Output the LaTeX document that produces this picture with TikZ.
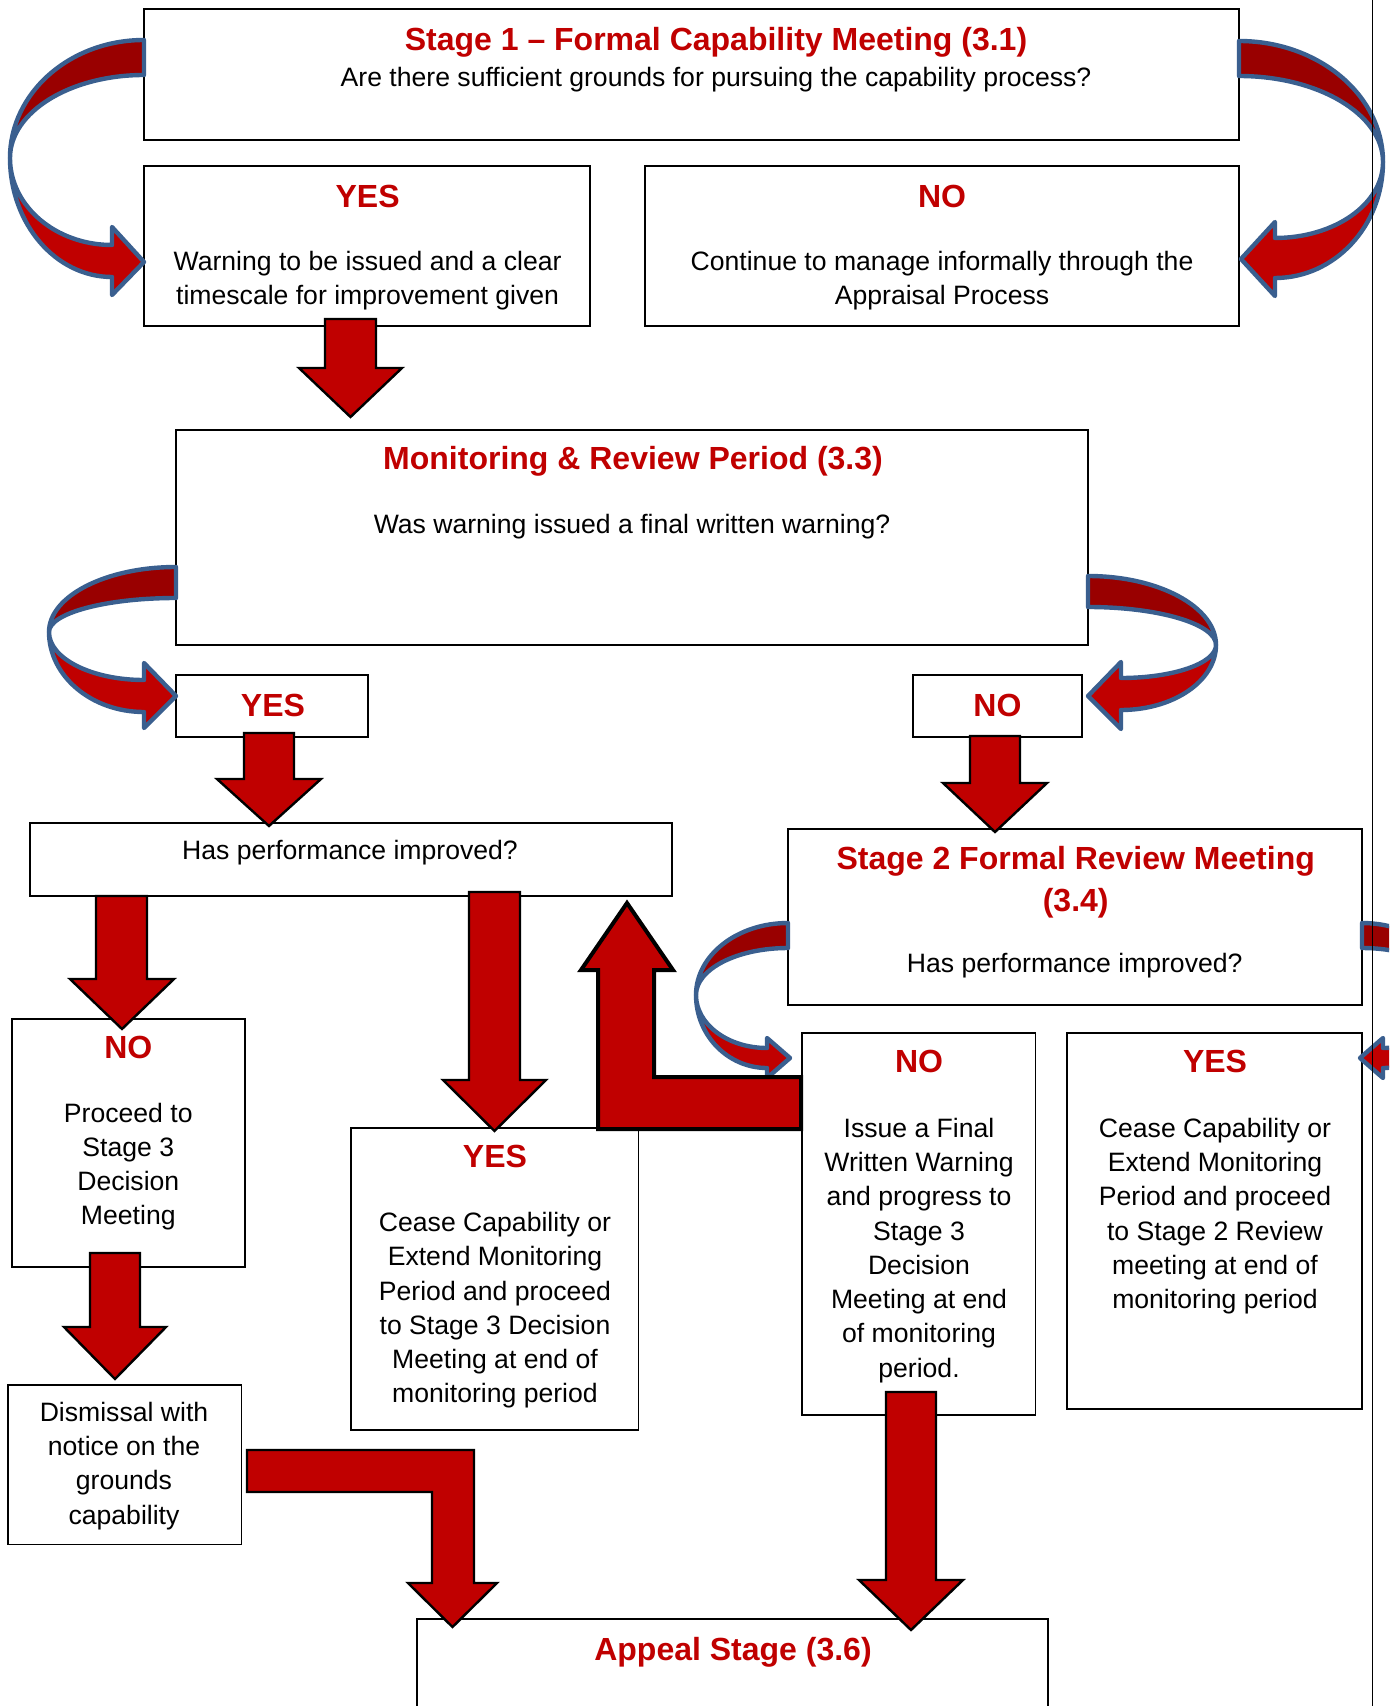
\documentclass[tikz,border=0pt]{standalone}
\usepackage{fontspec}
\setmainfont{Liberation Sans}
\definecolor{arrred}{HTML}{C00000}
\definecolor{arrdark}{HTML}{990000}
\definecolor{arrblue}{HTML}{3A5F8F}
\definecolor{txtred}{HTML}{C00000}
\newcommand\bodyfnt{\fontsize{13.3}{17.15}\selectfont}
\newcommand\titlefnt{\fontsize{16}{20.6}\selectfont\bfseries}
\begin{document}
\begin{tikzpicture}[x=0.5pt,y=-0.5pt,
  box/.style={draw=black,line width=0.9pt,fill=white,inner sep=0pt},
  body/.style={font=\bodyfnt,align=center,inner sep=0pt,text=black,yshift=-1.65pt},
  head/.style={font=\titlefnt,align=center,inner sep=0pt,text=txtred},
  dsc/.style={yshift=-1.65pt},
  blockarrow/.style={fill=arrred,draw=black,line width=1.2pt,line join=miter},
  thickarrow/.style={fill=arrred,draw=black,line width=2pt,line join=miter},
  backband/.style={fill=arrdark,draw=arrblue,line width=2.2pt,line join=round},
  frontband/.style={fill=arrred,draw=arrblue,line width=2.2pt,line join=round},
]
\useasboundingbox (0,0) rectangle (1389,1706);
\clip (0,0) rectangle (1389,1706);

% ---------- boxes ----------
\node[box,minimum width=547.5pt,minimum height=65.5pt] (s1) at (691.5,74.5) {};
\node[box,minimum width=223pt,minimum height=80pt] (yes1) at (367,246) {};
\node[box,minimum width=297pt,minimum height=80pt] (no1) at (942,246) {};
\node[box,minimum width=456pt,minimum height=107.5pt] (mon) at (632,537.5) {};
\node[box,minimum width=96pt,minimum height=31pt] (yes2) at (272,706) {};
\node[box,minimum width=84.5pt,minimum height=31pt] (no2) at (997.5,706) {};
\node[box,minimum width=321pt,minimum height=36.5pt] (perf) at (351,859.5) {};
\node[box,minimum width=287pt,minimum height=88pt] (s2) at (1075,917) {};
\node[box,minimum width=116.5pt,minimum height=124pt] (noL) at (128.5,1143) {};
\node[box,minimum width=143.75pt,minimum height=151pt] (yesM) at (494.75,1279) {};
\node[box,minimum width=116.75pt,minimum height=191pt] (noR) at (918.75,1224) {};
\node[box,minimum width=147.5pt,minimum height=188pt] (yesR) at (1214.5,1221) {};
\node[box,minimum width=116.75pt,minimum height=79.75pt] (dis) at (124.75,1464.75) {};
\node[box,minimum width=315.7pt,minimum height=70.5pt] (appeal) at (732.3,1689.5) {};

% ---------- texts ----------
\node[head,dsc] (t1) at (716,39) {Stage 1 – Formal Capability Meeting (3.1)};
\node[body] (t1b) at (716,76) {Are there sufficient grounds for pursuing the capability process?};
\node[head] (tyes1) at (367.6,196) {YES};
\node[body] (tyes1b) at (367.6,277) {Warning to be issued and a clear\\timescale for improvement given};
\node[head] (tno1) at (942,196) {NO};
\node[body] (tno1b) at (942,277) {Continue to manage informally through the\\Appraisal Process};
\node[head,dsc] (tmon) at (633,458) {Monitoring \& Review Period (3.3)};
\node[body] (tmonb) at (632,523) {Was warning issued a final written warning?};
\node[head] (tyes2) at (273,705) {YES};
\node[head] (tno2) at (997.4,705) {NO};
\node[body] (tperf) at (350,849.5) {Has performance improved?};
\node[head,dsc] (ts2) at (1075.7,879) {Stage 2 Formal Review Meeting\\(3.4)};
\node[body] (ts2b) at (1074.7,962.6) {Has performance improved?};
\node[head] (tnoL) at (128.3,1047.5) {NO};
\node[body] (tnoLb) at (128.3,1163.3) {Proceed to\\Stage 3\\Decision\\Meeting};
\node[head] (tyesM) at (495,1156) {YES};
\node[body] (tyesMb) at (495,1307) {Cease Capability or\\Extend Monitoring\\Period and proceed\\to Stage 3 Decision\\Meeting at end of\\monitoring period};
\node[head] (tnoR) at (919,1061.6) {NO};
\node[body] (tnoRb) at (919,1247) {Issue a Final\\Written Warning\\and progress to\\Stage 3\\Decision\\Meeting at end\\of monitoring\\period.};
\node[head] (tyesR) at (1215,1061.6) {YES};
\node[body] (tyesRb) at (1215,1212.8) {Cease Capability or\\Extend Monitoring\\Period and proceed\\to Stage 2 Review\\meeting at end of\\monitoring period};
\node[body] (tdis) at (124,1462.4) {Dismissal with\\notice on the\\grounds\\capability};
\node[head,dsc] (tapp) at (733,1649) {Appeal Stage (3.6)};

% ---------- curved arrows ----------
% top-left: s1 -> yes1
\draw[backband] (144,40) arc[start angle=270,end angle=180,x radius=134,y radius=118]
  arc[start angle=180,end angle=270,x radius=134,y radius=83] -- cycle;
\draw[frontband] (10,158) arc[start angle=180,end angle=90,x radius=102,y radius=87]
  -- (112,227) -- (144,262) -- (112,295) -- (112,277)
  arc[start angle=90,end angle=180,x radius=102,y radius=119] -- cycle;
% top-right: s1 -> no1
\draw[backband] (1239,41) arc[start angle=-90,end angle=0,x radius=144,y radius=121]
  arc[start angle=0,end angle=-90,x radius=144,y radius=86] -- cycle;
\draw[frontband] (1383,162) arc[start angle=0,end angle=90,x radius=108,y radius=76]
  -- (1275,222) -- (1241,259) -- (1275,296) -- (1275,278)
  arc[start angle=90,end angle=0,x radius=108,y radius=116] -- cycle;
% mid-left: mon -> yes2
\draw[backband] (176,567) arc[start angle=270,end angle=180,x radius=127,y radius=65]
  arc[start angle=180,end angle=270,x radius=127,y radius=34] -- cycle;
\draw[frontband] (49,632) arc[start angle=180,end angle=90,x radius=95,y radius=48]
  -- (144,663) -- (176,696) -- (144,728) -- (144,712)
  arc[start angle=90,end angle=180,x radius=95,y radius=80] -- cycle;
% mid-right: mon -> no2
\draw[backband] (1088,576) arc[start angle=-90,end angle=0,x radius=128,y radius=69]
  arc[start angle=0,end angle=-90,x radius=128,y radius=38] -- cycle;
\draw[frontband] (1216,645) arc[start angle=0,end angle=90,x radius=95,y radius=33]
  -- (1121,662) -- (1088,696) -- (1121,729) -- (1121,710)
  arc[start angle=90,end angle=0,x radius=95,y radius=65] -- cycle;
% stage2 left: s2 -> noR
\draw[backband] (788,923) arc[start angle=270,end angle=180,x radius=92,y radius=72]
  arc[start angle=180,end angle=270,x radius=92,y radius=47] -- cycle;
\draw[frontband] (696,995) arc[start angle=180,end angle=90,x radius=71,y radius=53]
  -- (767,1038) -- (790,1058) -- (767,1078) -- (767,1068)
  arc[start angle=90,end angle=180,x radius=71,y radius=73] -- cycle;
% stage2 right: s2 -> yesR (runs off the page)
\draw[backband] (1362,923) arc[start angle=-90,end angle=0,x radius=92,y radius=72]
  arc[start angle=0,end angle=-90,x radius=92,y radius=47] -- cycle;
\draw[frontband] (1454,995) arc[start angle=0,end angle=90,x radius=71,y radius=53]
  -- (1383,1038) -- (1360,1058) -- (1383,1078) -- (1383,1068)
  arc[start angle=90,end angle=0,x radius=71,y radius=73] -- cycle;

% ---------- straight block arrows ----------
\draw[blockarrow] (325,319) -- (376,319) -- (376,368) -- (402,368) -- (350.5,417) -- (299,368) -- (325,368) -- cycle;
\draw[blockarrow] (244,733) -- (294,733) -- (294,779) -- (321,779) -- (269,826) -- (217,779) -- (244,779) -- cycle;
\draw[blockarrow] (970,736) -- (1020,736) -- (1020,783) -- (1047,783) -- (995,832) -- (943,783) -- (970,783) -- cycle;
\draw[blockarrow] (96,896) -- (147,896) -- (147,979) -- (174,979) -- (122,1029) -- (70,979) -- (96,979) -- cycle;
\draw[blockarrow] (469,892) -- (520,892) -- (520,1080) -- (546,1080) -- (494.5,1131) -- (443,1080) -- (469,1080) -- cycle;
\draw[blockarrow] (90,1253) -- (140,1253) -- (140,1327) -- (166,1327) -- (115,1379) -- (64,1327) -- (90,1327) -- cycle;
\draw[blockarrow] (886,1392) -- (936,1392) -- (936,1580) -- (963,1580) -- (911,1630) -- (859,1580) -- (886,1580) -- cycle;

% ---------- bent block arrows ----------
\draw[thickarrow] (801,1077) -- (654,1077) -- (654,970) -- (673,970) -- (627,903) -- (581,970) -- (598,970) -- (598,1129) -- (801,1129) -- cycle;
\draw[blockarrow] (247,1450) -- (474,1450) -- (474,1583) -- (497,1583) -- (452.5,1627) -- (408,1583) -- (432,1583) -- (432,1492) -- (247,1492) -- cycle;

% ---------- page rule ----------
\draw[line width=0.6pt] (1372.5,0) -- (1372.5,1706);
\end{tikzpicture}
\end{document}
